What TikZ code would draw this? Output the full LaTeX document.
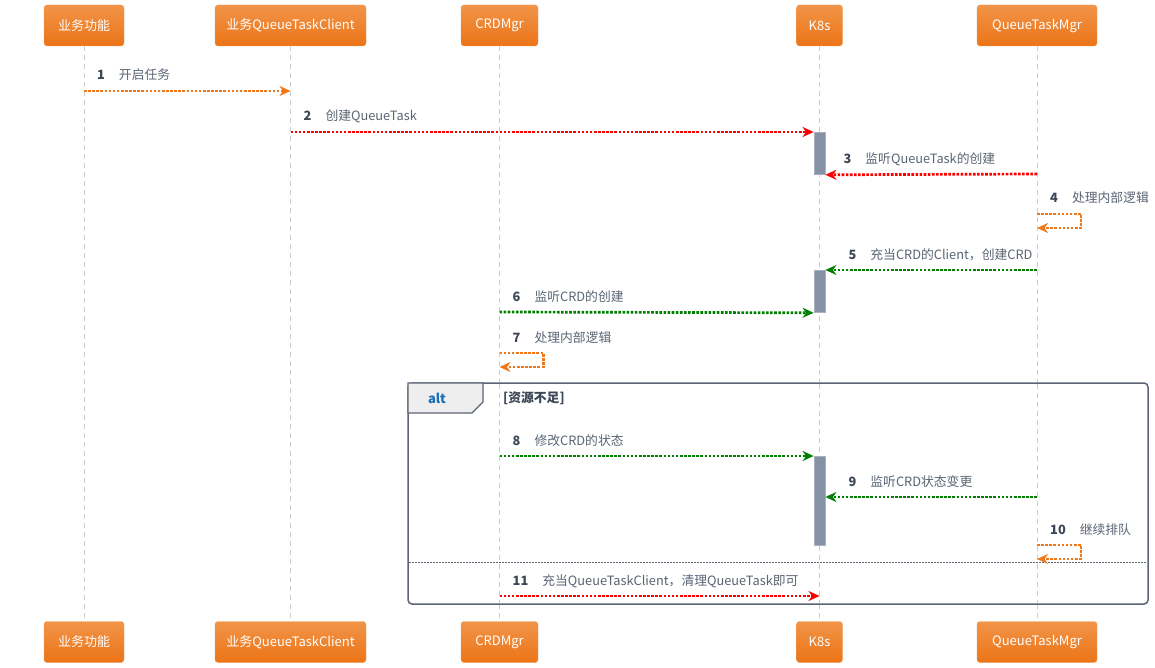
\documentclass[tikz,border=0pt]{standalone}
\usepackage{fontspec}
\setmainfont{Noto Sans CJK SC}
\usepackage{xcolor}
\definecolor{seqBoxTop}{HTML}{F19448}
\definecolor{seqBoxBottom}{HTML}{EC7417}
\definecolor{seqLife}{HTML}{CCCCCC}
\definecolor{seqText}{HTML}{5A6473}
\definecolor{seqNum}{HTML}{3B4656}
\definecolor{seqAct}{HTML}{8592A5}
\definecolor{seqActBorder}{HTML}{A9B3C0}
\definecolor{seqFrame}{HTML}{5D6575}
\definecolor{seqTab}{HTML}{EEEEEE}
\definecolor{seqAlt}{HTML}{1A70B8}
\definecolor{msgRed}{HTML}{FF0000}
\definecolor{msgGreen}{HTML}{008000}
\definecolor{msgOrange}{HTML}{F07818}
\usepackage{tikz}
\usetikzlibrary{arrows.meta,positioning,calc}
\tikzset{
    participant/.style={
        rectangle,
        rounded corners=3pt,
        top color=seqBoxTop,
        bottom color=seqBoxBottom,
        draw=seqBoxBottom!70!white,
        text=white,
        minimum height=41pt,
        inner sep=0pt,
        font=\fontsize{13}{15}\selectfont
    },
    lifeline/.style={
        draw=seqLife,
        line width=1pt,
        dash pattern=on 5pt off 4pt
    },
    activation/.style={
        rectangle,
        fill=seqAct,
        draw=seqActBorder,
        line width=0.8pt,
        minimum width=11pt,
        inner sep=0pt,
        anchor=north
    },
    msg/.style={
        -{Stealth[length=11pt,width=10pt,inset=3.5pt]},
        line width=2.7pt,
        dash pattern=on 2.6pt off 1.5pt
    },
    msglabel/.style={
        anchor=base west,
        inner sep=0pt,
        text=seqText,
        font=\fontsize{12.8}{15}\selectfont
    },
    frame/.style={
        draw=seqFrame,
        line width=1.5pt,
        rounded corners=4pt
    }
}
\newcommand{\msgtext}[2]{\textcolor{seqNum}{\textbf{#1}}\hspace{14pt}#2}

\begin{document}
\begin{tikzpicture}[x=1pt,y=-1pt]
    \useasboundingbox (0,0) rectangle (1155,668);

    % Participants, top and bottom
    \node[participant, minimum width=80pt]  (biz)    at (84,25.5)   {业务功能};
    \node[participant, minimum width=151pt] (client) at (290.5,25.5) {业务QueueTaskClient};
    \node[participant, minimum width=77pt]  (crd)    at (499.5,25.5) {CRDMgr};
    \node[participant, minimum width=46pt]  (k8s)    at (819.5,25.5) {K8s};
    \node[participant, minimum width=120pt] (qtm)    at (1037,25.5)  {QueueTaskMgr};

    \node[participant, minimum width=80pt]  (bizB)    at (84,642)    {业务功能};
    \node[participant, minimum width=151pt] (clientB) at (290.5,642) {业务QueueTaskClient};
    \node[participant, minimum width=77pt]  (crdB)    at (499.5,642) {CRDMgr};
    \node[participant, minimum width=46pt]  (k8sB)    at (819.5,642) {K8s};
    \node[participant, minimum width=120pt] (qtmB)    at (1037,642)  {QueueTaskMgr};

    % Lifelines
    \foreach \p in {biz,client,crd,k8s,qtm}
        \draw[lifeline] (\p) -- (\p B);

    % Alt frame
    \draw[frame, fill=white] (408,383) rectangle (1148,604);
    \draw[draw=seqFrame, line width=1.2pt, fill=seqTab]
        (408,383) -- (483,383) -- (483,402) -- (472,413) -- (408,413) -- cycle;
    \node[font=\fontsize{13}{15}\selectfont\bfseries, text=seqAlt] (alt) at (437,398) {alt};
    \node[msglabel, anchor=west, font=\fontsize{12.8}{15}\selectfont\bfseries, text=seqNum]
        (guard) at (503,398) {[资源不足]};
    \draw[draw=seqFrame, line width=0.8pt, dash pattern=on 1.5pt off 1.5pt] (409,562) -- (1147,562);
    \foreach \p in {crd,k8s,qtm}
        \draw[lifeline] (\p |- 0,384) -- (\p |- 0,603);

    % Activations on K8s
    \node[activation, minimum height=42pt] (act1) at (k8s |- 0,132) {};
    \node[activation, minimum height=42pt] (act2) at (k8s |- 0,270) {};
    \node[activation, minimum height=89pt] (act3) at (k8s |- 0,456) {};

    % Message end points
    \coordinate (m1a) at (biz |- 0,91);
    \coordinate (m1b) at (client |- 0,91);
    \coordinate (m2a) at (client |- 0,132);
    \coordinate (m3a) at (qtm |- 0,174);
    \coordinate (m4a) at (qtm |- 0,214);
    \coordinate (m4b) at (qtm |- 0,228);
    \coordinate (m5a) at (qtm |- 0,270);
    \coordinate (m6a) at (crd |- 0,312);
    \coordinate (m7a) at (crd |- 0,353);
    \coordinate (m7b) at (crd |- 0,367);
    \coordinate (m8a) at (crd |- 0,456);
    \coordinate (m9a) at (qtm |- 0,497);
    \coordinate (m10a) at (qtm |- 0,545);
    \coordinate (m10b) at (qtm |- 0,559);
    \coordinate (m11a) at (crd |- 0,596);
    \coordinate (m11b) at (k8s |- 0,596);

    % Messages
    \draw[msg, msgOrange] (m1a) -- (m1b);
    \node[msglabel] at ($(m1a)+(13,-11)$) {\msgtext{1}{开启任务}};

    \draw[msg, msgRed] (m2a) -- (act1.north west);
    \node[msglabel] at ($(m2a)+(13,-11)$) {\msgtext{2}{创建QueueTask}};

    \draw[msg, msgRed] (m3a) -- (act1.south east);
    \node[msglabel] at ($(act1.south east)+(18,-11)$) {\msgtext{3}{监听QueueTask的创建}};

    \draw[msg, msgOrange] (m4a) -- ++(44,0) |- (m4b);
    \node[msglabel] at ($(m4a)+(13,-11)$) {\msgtext{4}{处理内部逻辑}};

    \draw[msg, msgGreen] (m5a) -- (act2.north east);
    \node[msglabel] at ($(act2.north east)+(23,-11)$) {\msgtext{5}{充当CRD的Client，创建CRD}};

    \draw[msg, msgGreen] (m6a) -- (act2.south west);
    \node[msglabel] at ($(m6a)+(13,-11)$) {\msgtext{6}{监听CRD的创建}};

    \draw[msg, msgOrange] (m7a) -- ++(44,0) |- (m7b);
    \node[msglabel] at ($(m7a)+(13,-11)$) {\msgtext{7}{处理内部逻辑}};

    \draw[msg, msgGreen] (m8a) -- (act3.north west);
    \node[msglabel] at ($(m8a)+(13,-11)$) {\msgtext{8}{修改CRD的状态}};

    \draw[msg, msgGreen] (m9a) -- (act3.east |- m9a);
    \node[msglabel] at ($(act3.east |- m9a)+(23,-11)$) {\msgtext{9}{监听CRD状态变更}};

    \draw[msg, msgOrange] (m10a) -- ++(44,0) |- (m10b);
    \node[msglabel] at ($(m10a)+(13,-11)$) {\msgtext{10}{继续排队}};

    \draw[msg, msgRed] (m11a) -- (m11b);
    \node[msglabel] at ($(m11a)+(13,-11)$) {\msgtext{11}{充当QueueTaskClient，清理QueueTask即可}};
\end{tikzpicture}
\end{document}
